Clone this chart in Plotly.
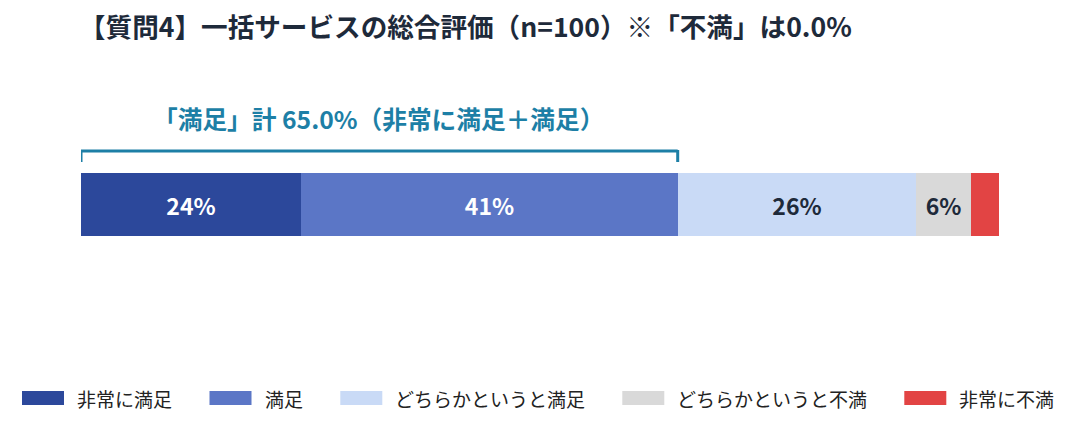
import plotly.graph_objects as go

# 回答区分と割合（%）
categories = ["非常に満足", "満足", "どちらかというと満足", "どちらかというと不満", "非常に不満"]
values = [24, 41, 26, 6, 3]
colors = ["#2c489b", "#5b76c6", "#c9daf6", "#d9d9d9", "#e24444"]
label_colors = ["#ffffff", "#ffffff", "#1e2a3a", "#1e2a3a", "#1e2a3a"]
show_label = [True, True, True, True, False]

title_text = "【質問4】一括サービスの総合評価（n=100）※「不満」は0.0%"
bracket_text = "「満足」計 65.0%（非常に満足＋満足）"
bracket_total = values[0] + values[1]

FONT = "Noto Sans CJK JP"
OFF = 8  # ページ本体の余白（画面座標との差）
W, H = 1079 - OFF, 433 - OFF
L, T = 81 - OFF, 173 - OFF
R = W - (999 - OFF)
B = H - (236 - OFF)
plot_h = H - T - B
plot_w = W - L - R


def py(screen_y):
    # 画面上のy座標をpaper座標に変換
    return (H - B - (screen_y - OFF)) / plot_h


def px(screen_x):
    return (screen_x - OFF - L) / plot_w


fig = go.Figure()
for cat, val, col, lc, show in zip(categories, values, colors, label_colors, show_label):
    fig.add_trace(go.Bar(
        y=["all"], x=[val], orientation="h", name=cat,
        marker=dict(color=col, line=dict(width=0)),
        text=[f"{val}%" if show else ""], textposition="inside",
        insidetextanchor="middle",
        textfont=dict(family=FONT, size=23, color=lc, weight="bold"),
        width=1, showlegend=False, hoverinfo="name+x",
    ))

# 「満足」合計のブラケット
bracket_color = "#1d7fa6"
fig.add_shape(type="line", xref="x", yref="paper", x0=0, x1=bracket_total,
              y0=py(151), y1=py(151), line=dict(color=bracket_color, width=3))
for xv in [0, bracket_total]:
    fig.add_shape(type="line", xref="x", yref="paper", x0=xv, x1=xv,
                  y0=py(150), y1=py(162), line=dict(color=bracket_color, width=3))
fig.add_annotation(text=bracket_text, xref="x", yref="paper", x=bracket_total / 2,
                   xshift=-1, y=py(118), showarrow=False, xanchor="center", yanchor="middle",
                   font=dict(family=FONT, size=24.7, color=bracket_color, weight="bold"))

# 凡例（手動で配置）
sw_w, sw_gap, char_w, item_gap = 42, 11, 18.9, 40
x_cur = 22
for cat, col in zip(categories, colors):
    fig.add_shape(type="rect", xref="paper", yref="paper",
                  x0=px(x_cur), x1=px(x_cur + sw_w), y0=py(391), y1=py(405),
                  fillcolor=col, line=dict(width=0))
    tx = x_cur + sw_w + sw_gap
    fig.add_annotation(text=cat, xref="paper", yref="paper", x=px(tx), y=py(398),
                       showarrow=False, xanchor="left", yanchor="middle",
                       font=dict(family=FONT, size=19, color="#222222"))
    x_cur = tx + len(cat) * char_w + item_gap

fig.update_layout(
    width=W, height=H,
    margin=dict(l=L, r=R, t=T, b=B),
    plot_bgcolor="white", paper_bgcolor="white",
    barmode="stack", bargap=0,
    title=dict(text=title_text, x=(79 - OFF) / W, xanchor="left",
               y=1 - (28 - OFF) / H, yanchor="middle",
               font=dict(family=FONT, size=26.6, color="#1e2a3a", weight="bold")),
    xaxis=dict(range=[0, 100], visible=False, fixedrange=True),
    yaxis=dict(range=[-0.5, 0.5], visible=False, fixedrange=True),
    uniformtext=dict(minsize=10, mode="show"),
)

fig.write_html("out.html")
